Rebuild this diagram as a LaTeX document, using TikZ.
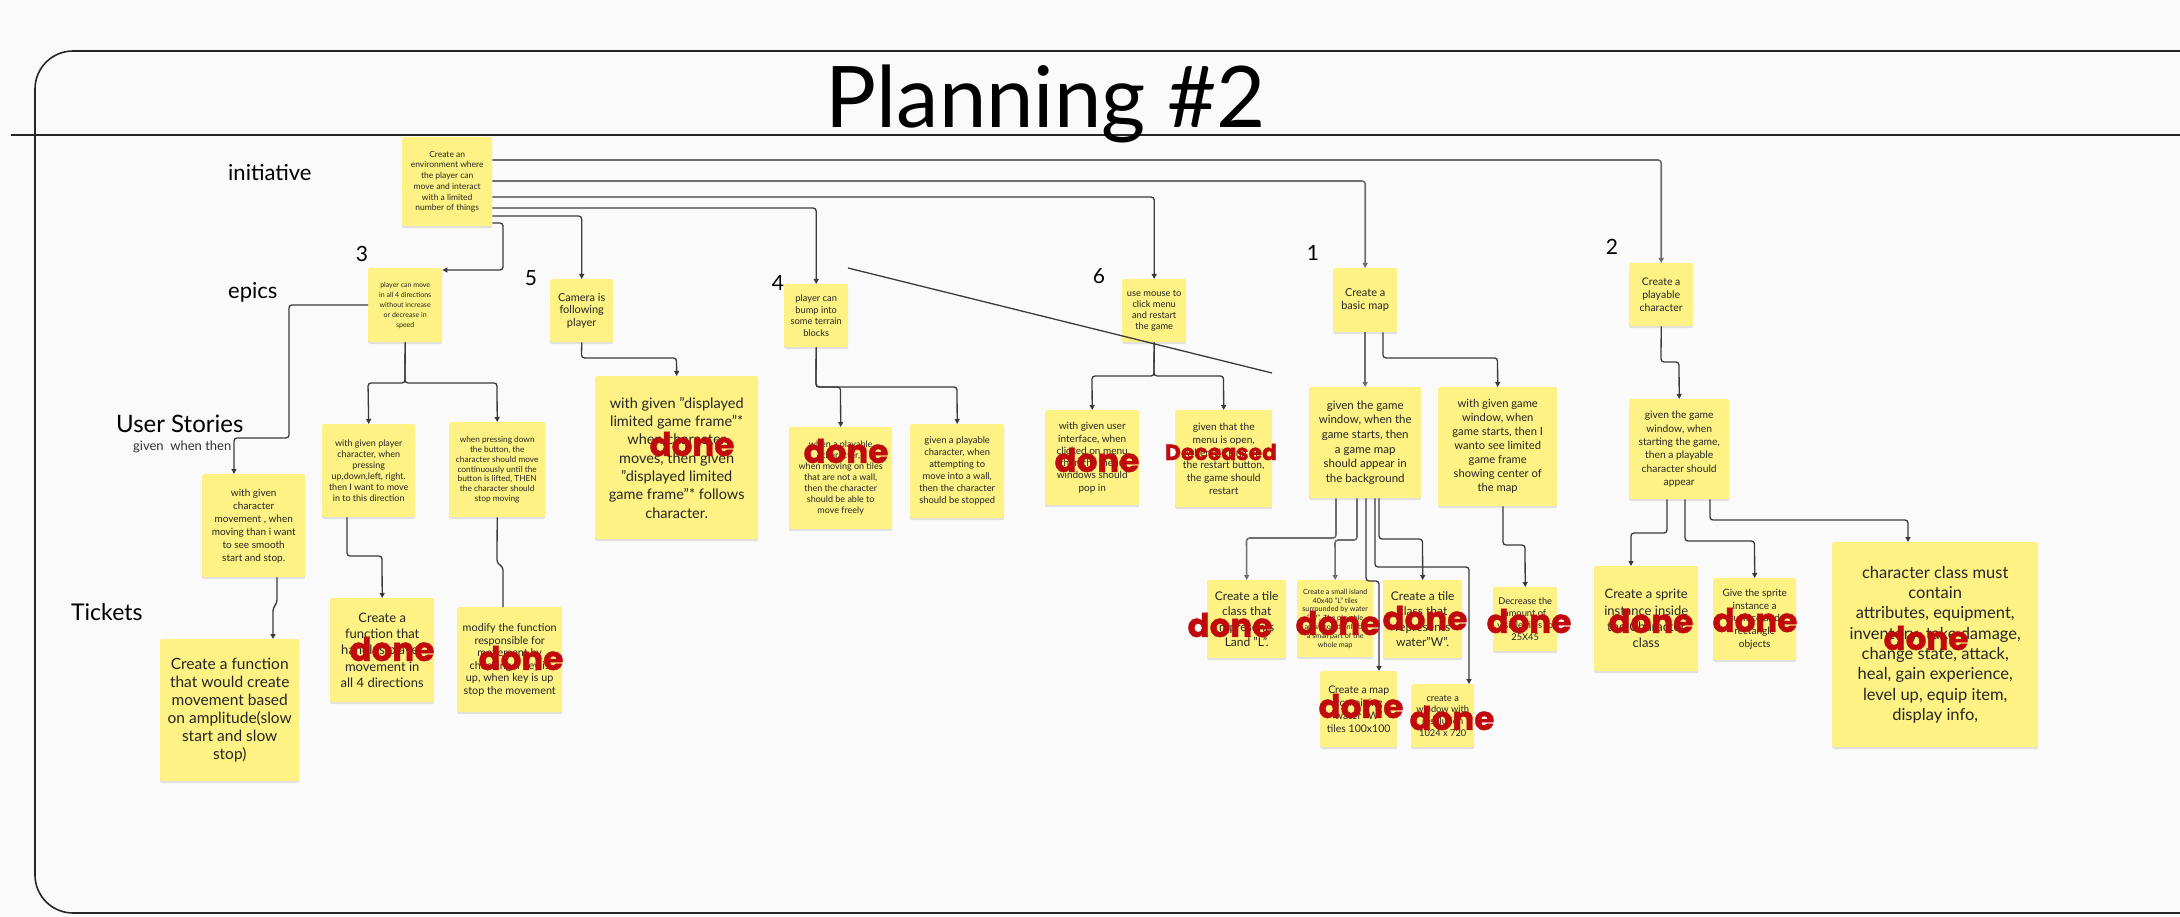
\documentclass[tikz,border=0pt]{standalone}
\usepackage{fontspec}
\setmainfont{Lato}
\newfontfamily\stampfont{Poppins}[BoldFeatures={FakeBold=1.3}]
\usetikzlibrary{arrows.meta,shadows}
\newcommand{\fsz}[2]{\fontsize{#1}{#2}\selectfont}
\definecolor{bg}{HTML}{FAFAFA}
\definecolor{sticky}{HTML}{FDF283}
\definecolor{ink}{HTML}{262626}
\definecolor{wire}{HTML}{3A3A3A}
\definecolor{wireg}{HTML}{6E6E6E}
\definecolor{stampred}{HTML}{C00A0E}
\tikzset{
  note/.style={fill=sticky, rounded corners=1.5pt, inner sep=2pt, align=center, text=ink,
    anchor=north west, drop shadow={shadow xshift=0pt, shadow yshift=-2pt, fill=black, opacity=0.10}},
  conn/.style={draw=wire, line width=1.3pt, rounded corners=3pt, -{Triangle[length=5pt,width=5pt]}},
  conng/.style={conn, draw=wireg, line width=1.6pt},
  plainconn/.style={draw=wire, line width=1.3pt, rounded corners=3pt},
  stamp/.style={text=stampred, font=\stampfont\bfseries\fsz{32.5}{33}, inner sep=0pt},
  lvl/.style={text=black, inner sep=0pt, anchor=base west},
  num/.style={text=black, inner sep=0pt, font=\fsz{21}{21}},
}
\begin{document}
\begin{tikzpicture}[x=1pt,y=-1pt]
\useasboundingbox (0,0) rectangle (2180,917);
\clip (0,0) rectangle (2180,917);
\fill[bg] (0,0) rectangle (2180,917);
% frame
\draw[line width=1.6pt, draw=black!85, rounded corners=38pt] (2230,51) -- (35,51) -- (35,913) -- (2230,913);
\draw[line width=1.3pt, draw=black!85] (11,135) -- (2180,135);
\node[font=\fsz{85}{90}, anchor=base, inner sep=0pt] (title) at (1046,128) {Planning \#2};
% level labels
\node[lvl, font=\fsz{22}{22}] (linit) at (228,181) {initiative};
\node[lvl, font=\fsz{22}{22}] (lepic) at (228,299) {epics};
\node[lvl, font=\fsz{24}{24}] (lus) at (116,432) {User Stories};
\node[lvl, font=\fsz{13}{13}, text=black!80] (lgwt) at (133,450) {given\ \ when then};
\node[lvl, font=\fsz{23}{23}] (ltick) at (71,620) {Tickets};
% numbers
\node[num] (n3) at (362,254) {3};
\node[num] (n5) at (531,278) {5};
\node[num] (n4) at (778,283) {4};
\node[num] (n6) at (1099,276) {6};
\node[num] (n1) at (1313,253) {1};
\node[num] (n2) at (1612,247) {2};
% coordinates for the stray line
\coordinate (s1) at (848,268);
\coordinate (s2) at (1272,373);
% ---------- notes ----------
\node[note, minimum width=90pt, minimum height=89pt, font=\fsz{8.5}{10.7}] (ini) at (402,137) {Create an\\environment where\\the player can\\move and interact\\with a limited\\number of things};
\node[note, minimum width=74pt, minimum height=74pt, font=\fsz{7}{10}] (e3) at (368,268) {player can move\\in all 4 directions\\without increase\\or decrease in\\speed};
\node[note, minimum width=63pt, minimum height=63pt, font=\fsz{11}{12.7}] (e5) at (550,279) {Camera is\\following\\player};
\node[note, minimum width=64pt, minimum height=63pt, font=\fsz{9.3}{11.5}] (e4) at (784,284) {player can\\bump into\\some terrain\\blocks};
\node[note, minimum width=64pt, minimum height=63pt, font=\fsz{9.3}{11}] (e6) at (1122,279) {use mouse to\\click menu\\and restart\\the game};
\node[note, minimum width=64pt, minimum height=64pt, font=\fsz{11}{13.3}] (e1) at (1333,268) {Create a\\basic map};
\node[note, minimum width=64pt, minimum height=63pt, font=\fsz{10.5}{13.3}] (e2) at (1629,263) {Create a\\playable\\character};
% user stories
\node[note, minimum width=103pt, minimum height=103pt, font=\fsz{10}{13}] (u3a) at (202,474) {with given\\character\\movement , when\\moving than i want\\to see smooth\\start and stop.};
\node[note, minimum width=93pt, minimum height=93pt, font=\fsz{9}{11}] (u3b) at (322,424) {with given player\\character, when\\pressing\\up,down,left, right.\\then I want to move\\in to this direction};
\node[note, minimum width=96pt, minimum height=95pt, font=\fsz{8.3}{9.7}] (u3c) at (449,422) {when pressing down\\the button, the\\character should move\\continuously until the\\button is lifted, THEN\\the character should\\stop moving};
\node[note, minimum width=163pt, minimum height=163pt, font=\fsz{14.5}{18.3}] (u5) at (595,376) {with given "displayed\\limited game frame"*\\when character\\moves, then given\\"displayed limited\\game frame"* follows\\character.};
\node[note, minimum width=103pt, minimum height=102pt, font=\fsz{9}{11}] (u4a) at (789,427) {when a playable\\character,\\when moving on tiles\\that are not a wall,\\then the character\\should be able to\\move freely};
\node[note, minimum width=94pt, minimum height=94pt, font=\fsz{9.4}{12}] (u4b) at (910,424) {given a playable\\character, when\\attempting to\\move into a wall,\\then the character\\should be stopped};
\node[note, minimum width=94pt, minimum height=95pt, font=\fsz{10}{12.3}] (u6a) at (1045,410) {with given user\\interface, when\\clicked on menu\\then the menu\\windows should\\pop in};
\node[note, minimum width=97pt, minimum height=97pt, font=\fsz{10.2}{12.7}] (u6b) at (1175,410) {given that the\\menu is open,\\when clicking on\\the restart button,\\the game should\\restart};
\node[note, minimum width=112pt, minimum height=111pt, font=\fsz{11.5}{14.7}] (u1a) at (1309,387) {given the game\\window, when the\\game starts, then\\a game map\\should appear in\\the background};
\node[note, minimum width=119pt, minimum height=119pt, font=\fsz{11.2}{14}] (u1b) at (1438,387) {with given game\\window, when\\game starts, then I\\wanto see limited\\game frame\\showing center of\\the map};
\node[note, minimum width=100pt, minimum height=100pt, font=\fsz{10.3}{13.3}] (u2) at (1629,399) {given the game\\window, when\\starting the game,\\then a playable\\character should\\appear};
% tickets
\node[note, minimum width=139pt, minimum height=142pt, font=\fsz{15.5}{18}] (t3a) at (160,639) {Create a function\\that would create\\movement based\\on amplitude(slow\\start and slow\\stop)};
\node[note, minimum width=104pt, minimum height=104pt, font=\fsz{13}{16.3}] (t3b) at (330,598) {Create a\\function that\\handles player\\movement in\\all 4 directions};
\node[note, minimum width=105pt, minimum height=105pt, font=\fsz{10.8}{12.5}] (t3c) at (457,607) {modify the function\\responsible for\\movement by\\checking if key is\\up, when key is up\\stop the movement};
\node[note, minimum width=79pt, minimum height=78pt, font=\fsz{12}{15.3}] (tland) at (1207,580) {Create a tile\\class that\\represents\\Land "L".};
\node[note, minimum width=76pt, minimum height=77pt, font=\fsz{7.2}{8.8}] (tisl) at (1297,580) {Create a small island\\40x40 "L" tiles\\surrounded by water\\"W". The playable\\area should only be\\a small part of the\\whole map};
\node[note, minimum width=79pt, minimum height=78pt, font=\fsz{12}{15.3}] (twat) at (1383,580) {Create a tile\\class that\\represents\\water"W".};
\node[note, minimum width=77pt, minimum height=76pt, font=\fsz{10.5}{12.7}] (tmap) at (1320,671) {Create a map\\containing\\water "W"\\tiles 100x100};
\node[note, minimum width=63pt, minimum height=63pt, font=\fsz{9.3}{11.7}] (twin) at (1411,684) {create a\\window with\\resolution\\1024 x 720};
\node[note, minimum width=64pt, minimum height=64pt, font=\fsz{9.3}{12}] (tdec) at (1493,587) {Decrease the\\amount of\\visible tiles to\\25X45};
\node[note, minimum width=104pt, minimum height=105pt, font=\fsz{13}{16.3}] (tspr) at (1594,566) {Create a sprite\\instance inside\\the Character\\class};
\node[note, minimum width=83pt, minimum height=82pt, font=\fsz{10}{12.7}] (tgive) at (1713,578) {Give the sprite\\instance a\\surface and\\rectangle\\objects};
\node[note, minimum width=206pt, minimum height=205pt, font=\fsz{16.5}{20.3}] (tchar) at (1832,542) {character class must\\contain\\attributes, equipment,\\inventory, take damage,\\change state, attack,\\heal, gain experience,\\level up, equip item,\\display info,};
% ---------- connectors ----------
\draw[conn] (ini.east |- 0,223) -- (503,223) -- (503,270) -- (e3.east |- 0,270);
\draw[conn] (ini.east |- 0,216) -| (e5.north);
\draw[conn] (ini.east |- 0,208) -| (e4.north);
\draw[conn] (ini.east |- 0,197) -| (e6.north);
\draw[conng] (ini.east |- 0,181) -| (e1.north);
\draw[conng] (ini.east |- 0,160) -| (e2.north);
\draw[plainconn] (s1) -- (s2);
\draw[conn] (e3.west |- 0,305) -- (289,305) -- (289,438) -- (234,438) -- (u3a.north -| 234,0);
\draw[conn] (e3.south) -- (405,383) -- (368,383) -- (u3b.north);
\draw[conn] (e3.south) -- (405,383) -- (497,383) -- (u3c.north);
\draw[conn] (u3a.south -| 277,0) -- (277,603) -- (273,608) -- (t3a.north -| 273,0);
\draw[conn] (u3b.south -| 347,0) -- (347,556) -- (382,556) -- (t3b.north);
\draw[plainconn] (u3c.south) -- (497,563) -- (503,567) -- (t3c.north -| 503,0);
\draw[conn] (e5.south) -- (581.5,358) -- (676.5,358) -- (u5.north);
\draw[conn] (e4.south) -- (816,387) -- (840.5,387) -- (u4a.north);
\draw[conn] (e4.south) -- (816,387) -- (957,387) -- (u4b.north);
\draw[conn] (e6.south) -- (1154,376) -- (1092,376) -- (u6a.north);
\draw[conn] (e6.south) -- (1154,376) -- (1223.5,376) -- (u6b.north);
\draw[conng] (e1.south) -- (u1a.north);
\draw[conn] (e1.south -| 1383,0) -- (1383,358) -- (1497.5,358) -- (u1b.north);
\draw[conn] (e2.south) -- (1661,362) -- (1679,362) -- (u2.north);
\draw[conng] (u1a.south -| 1336,0) -- (1336,538) -- (1246.5,538) -- (tland.north);
\draw[conng] (u1a.south -| 1357,0) -- (1357,540) -- (1335,540) -- (tisl.north);
\draw[conn] (u1a.south -| 1366,0) -- (1366,581) -- (1379,581) -- (tmap.north -| 1379,0);
\draw[conn] (u1a.south -| 1379,0) -- (1379,539) -- (1422.5,539) -- (twat.north);
\draw[conn] (u1a.south -| 1375,0) -- (1375,567) -- (1469,567) -- (twin.north -| 1469,0);
\draw[conn] (u1b.south -| 1503,0) -- (1503,545) -- (1525,545) -- (tdec.north);
\draw[conn] (u2.south -| 1667,0) -- (1667,533) -- (1631,533) -- (tspr.north -| 1631,0);
\draw[conn] (u2.south -| 1685,0) -- (1685,541) -- (1754.5,541) -- (tgive.north);
\draw[conn] (u2.south -| 1710,0) -- (1710,520) -- (1908,520) -- (tchar.north -| 1908,0);
% ---------- stamps ----------
\node[stamp] (d3b) at (392,649) {done};
\node[stamp] (d3c) at (521,658) {done};
\node[stamp] (d5) at (692,444) {done};
\node[stamp] (d4a) at (846,451) {done};
\node[stamp] (d6a) at (1097,460) {done};
\node[stamp, font=\stampfont\bfseries\fsz{22}{22}] (d6b) at (1221,452) {Deceased};
\node[stamp] (dland) at (1230,625) {done};
\node[stamp] (disl) at (1338,623) {done};
\node[stamp] (dwat) at (1425,618) {done};
\node[stamp] (ddec) at (1529,621) {done};
\node[stamp] (dmap) at (1361,706) {done};
\node[stamp] (dwin) at (1452,718) {done};
\node[stamp] (dspr) at (1651,621) {done};
\node[stamp] (dgive) at (1755,620) {done};
\node[stamp] (dchar) at (1926,638) {done};
\end{tikzpicture}
\end{document}
